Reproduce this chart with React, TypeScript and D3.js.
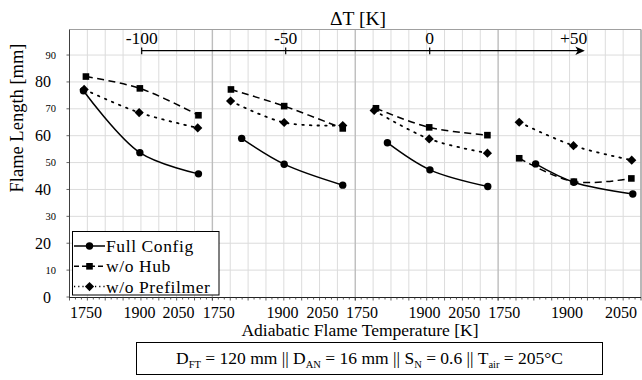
import React from 'react';
import * as d3 from 'd3';

// ---- data (temperatures in K per panel, flame length in mm) ----
const panelIds = [0, 1, 2, 3];
const fullT = [[1739, 1897, 2061], [1782, 1901, 2065], [1790, 1909, 2071], [1805, 1912, 2077]];
const fullL = [[76.7, 53.7, 45.8], [59.0, 49.4, 41.6], [57.4, 47.3, 41.1], [49.5, 42.7, 38.3]];
const hubT = [[1746, 1897, 2061], [1752, 1901, 2065], [1758, 1907, 2070], [1759, 1912, 2073]];
const hubL = [[82.0, 77.6, 67.6], [77.2, 71.0, 62.7], [70.2, 63.1, 60.2], [51.6, 42.9, 44.1]];
const prefT = [[1741, 1895, 2059], [1751, 1901, 2065], [1753, 1907, 2070], [1759, 1911, 2074]];
const prefL = [[77.2, 68.6, 62.9], [72.9, 64.9, 63.8], [69.4, 58.8, 53.5], [65.0, 56.3, 50.9]];

const xTickLabels = ['1750', '1900', '2050'];
// where the tick labels sit along each panel's temperature axis
const xLabelAt = [[1746, 1896, 2005], [1718, 1896, 2008], [1719, 1894, 2005], [1717, 1893, 2044]];
const yMajor = [0, 20, 40, 60, 80];
const yMinor = [10, 30, 50, 70, 90];
const dTTicks = [-100, -50, 0];
const dTLabels = [
  { v: -100, t: '-100' },
  { v: -50, t: '-50' },
  { v: 0, t: '0' },
  { v: 50, t: '+50' },
];
const legendNames = ['Full Config', 'w/o Hub', 'w/o Prefilmer'];

const FONT = "'Liberation Serif'";
const fst = { fontFamily: FONT };

const W = 642;
const H = 380;
const plotL = 69.5;
const plotR = 641;
const plotT = 29.5;
const plotB = 297;
const panelW = (plotR - plotL) / 4;

const y = d3.scaleLinear().domain([0, 99.5]).range([plotB, plotT]);
const xPanel = (i: number) =>
  d3.scaleLinear().domain([1700, 2100]).range([plotL + i * panelW, plotL + (i + 1) * panelW]);
const xDT = d3.scaleLinear().domain([-100, 50]).range([141.7, 573.7]);

const lineGen = (xs: d3.ScaleLinear<number, number>) =>
  d3
    .line<[number, number]>()
    .x((d) => xs(d[0]))
    .y((d) => y(d[1]))
    .curve(d3.curveCatmullRom.alpha(0.5));

function Circle({ cx, cy }: { cx: number; cy: number }) {
  return <circle cx={cx} cy={cy} r={3.7} fill="#000" />;
}
function Square({ cx, cy }: { cx: number; cy: number }) {
  const s = 6.6;
  return <rect x={cx - s / 2} y={cy - s / 2} width={s} height={s} fill="#000" />;
}
function Diamond({ cx, cy }: { cx: number; cy: number }) {
  const r = 4.6;
  return <path d={`M${cx},${cy - r}L${cx + r},${cy}L${cx},${cy + r}L${cx - r},${cy}Z`} fill="#000" />;
}

const seriesDefs = [
  { T: fullT, L: fullL, dash: undefined as string | undefined, M: Circle },
  { T: hubT, L: hubL, dash: '7,4.5', M: Square },
  { T: prefT, L: prefL, dash: '1.6,6', M: Diamond },
];

export default function App() {
  const vGrid: any[] = [];
  const minorTicks: any[] = [];
  panelIds.forEach((p) => {
    const xs = xPanel(p);
    d3.range(1700, 2100 + 1, 50).forEach((t, k) => {
      if (p === 0 && k === 0) return;
      if (p < 3 && k === 8) return;
      const boundary = k === 0 || k === 8;
      vGrid.push(
        <line
          key={`vg${p}-${k}`}
          x1={xs(t)}
          x2={xs(t)}
          y1={plotT}
          y2={plotB}
          stroke={boundary ? '#bdbdbd' : '#dcdcdc'}
          strokeWidth={boundary ? 1.4 : 1}
        />
      );
    });
    d3.range(0, 25).forEach((k) => {
      const t = 1700 + (k * 50) / 3;
      const major = k % 3 === 0;
      minorTicks.push(
        <line
          key={`mt${p}-${k}`}
          x1={xs(t)}
          x2={xs(t)}
          y1={plotB}
          y2={plotB + (major ? 3.5 : 2.5)}
          stroke="#333"
          strokeWidth={0.8}
        />
      );
    });
  });

  return (
    <svg width={W} height={H} style={{ position: 'absolute', left: 0, top: 0 }}>
      <style>{`text, tspan { font-family: 'Liberation Serif'; }`}</style>
      <rect x={0} y={0} width={W} height={H} fill="#fff" />
      {/* horizontal grid */}
      {d3.range(10, 100, 10).map((v) => (
        <line key={`hg${v}`} x1={plotL} x2={plotR} y1={y(v)} y2={y(v)} stroke="#dcdcdc" strokeWidth={1} />
      ))}
      {vGrid}
      {/* frame */}
      <line x1={plotL} x2={plotR} y1={plotT} y2={plotT} stroke="#a0a0a0" strokeWidth={1} />
      <line x1={plotR} x2={plotR} y1={plotT} y2={plotB} stroke="#a0a0a0" strokeWidth={1} />
      <line x1={plotL} x2={plotL} y1={plotT} y2={plotB + 1} stroke="#404040" strokeWidth={1} />
      <line x1={plotL - 0.5} x2={plotR} y1={plotB + 0.5} y2={plotB + 0.5} stroke="#222" strokeWidth={1} />
      {minorTicks}
      {/* y ticks and labels */}
      {d3.range(0, 100, 10).map((v) => (
        <line key={`yt${v}`} x1={plotL - 3} x2={plotL} y1={y(v)} y2={y(v)} stroke="#404040" strokeWidth={0.8} />
      ))}
      {yMajor.map((v) => (
        <text key={`ym${v}`} x={51} y={y(v) + 5.5} textAnchor="end" fontSize={16} style={fst}>
          {v}
        </text>
      ))}
      {yMinor.map((v) => (
        <text key={`yn${v}`} x={56} y={y(v) + 3.6} textAnchor="end" fontSize={10.5} style={fst}>
          {v}
        </text>
      ))}
      <text transform={`translate(23,118) rotate(-90)`} textAnchor="middle" fontSize={18.5} style={fst}>
        Flame Length [mm]
      </text>
      {/* x tick labels */}
      {panelIds.map((p) =>
        xTickLabels.map((lab, k) => (
          <text key={`xl${p}-${k}`} x={xPanel(p)(xLabelAt[p][k])} y={318} textAnchor="middle" fontSize={16} style={fst}>
            {lab}
          </text>
        ))
      )}
      <text x={360} y={336} textAnchor="middle" fontSize={17.5} style={fst}>
        Adiabatic Flame Temperature [K]
      </text>
      {/* top delta T axis */}
      <text x={358} y={25} textAnchor="middle" fontSize={19.5} style={fst}>
        ΔT [K]
      </text>
      <line x1={xDT(-100)} x2={xDT(52)} y1={50.7} y2={50.7} stroke="#000" strokeWidth={1.2} />
      <path
        d={`M${xDT(53) + 2.5},50.7L${xDT(53) - 7},46.5L${xDT(53) - 4.5},50.7L${xDT(53) - 7},54.9Z`}
        fill="#000"
      />
      {dTTicks.map((v) => (
        <line key={`dt${v}`} x1={xDT(v)} x2={xDT(v)} y1={47.5} y2={54.2} stroke="#000" strokeWidth={1.2} />
      ))}
      {dTLabels.map((d) => (
        <text key={`dl${d.v}`} x={xDT(d.v)} y={44} textAnchor="middle" fontSize={17.5} style={fst}>
          {d.t}
        </text>
      ))}
      {/* series */}
      {panelIds.map((p) => {
        const xs = xPanel(p);
        const lg = lineGen(xs);
        return (
          <g key={`p${p}`}>
            {seriesDefs.map((s, si) => {
              const pts = s.T[p].map((t, i) => [t, s.L[p][i]] as [number, number]);
              return (
                <g key={`s${si}`}>
                  <path
                    d={lg(pts) || ''}
                    fill="none"
                    stroke="#000"
                    strokeWidth={si === 2 ? 1.8 : 1.5}
                    strokeDasharray={s.dash}
                    strokeLinecap={si === 2 ? 'round' : 'butt'}
                  />
                  {pts.map((d, i) => (
                    <s.M key={i} cx={xs(d[0])} cy={y(d[1])} />
                  ))}
                </g>
              );
            })}
          </g>
        );
      })}
      {/* legend */}
      <rect x={72.5} y={231.5} width={146.5} height={63.5} fill="#fff" stroke="#000" strokeWidth={1} />
      {legendNames.map((n, i) => {
        const cy = 246 + i * 20.3;
        const s = seriesDefs[i];
        return (
          <g key={`lg${i}`}>
            <line
              x1={74}
              x2={105}
              y1={cy}
              y2={cy}
              stroke="#000"
              strokeWidth={1.5}
              strokeDasharray={i === 0 ? undefined : i === 1 ? '5,3' : '1.2,3'}
            />
            <s.M cx={89.5} cy={cy} />
            <text x={106} y={cy + 6} fontSize={17.5} letterSpacing={0.6} style={fst}>
              {n}
            </text>
          </g>
        );
      })}
      {/* parameter box */}
      <rect x={136.5} y={342.5} width={466} height={32} fill="#fff" stroke="#000" strokeWidth={1} />
      <text x={369.5} y={364} textAnchor="middle" fontSize={17.5} style={fst}>
        <tspan>D</tspan>
        <tspan fontSize={10.5} dy={4}>FT</tspan>
        <tspan dy={-4}> = 120 mm || D</tspan>
        <tspan fontSize={10.5} dy={4}>AN</tspan>
        <tspan dy={-4}> = 16 mm || S</tspan>
        <tspan fontSize={10.5} dy={4}>N</tspan>
        <tspan dy={-4}> = 0.6 || T</tspan>
        <tspan fontSize={10.5} dy={4}>air</tspan>
        <tspan dy={-4}> = 205°C</tspan>
      </text>
    </svg>
  );
}
